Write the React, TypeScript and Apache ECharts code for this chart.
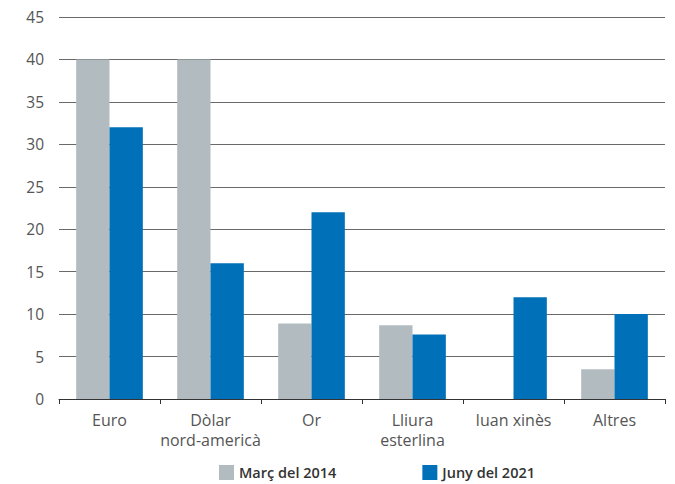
import React, { useEffect, useRef } from "react";
import * as echarts from "echarts";

const categories = ["Euro", "Dòlar\nnord-americà", "Or", "Lliura\nesterlina", "Iuan xinès", "Altres"];
const seriesNames = ["Març del 2014", "Juny del 2021"];
const march2014 = [40, 40, 8.9, 8.7, 0, 3.5];
const june2021 = [32, 16, 22, 7.6, 12, 10];
const yMin = 0;
const yMax = 45;
const yInterval = 5;

export default function App() {
  const ref = useRef<HTMLDivElement>(null);
  useEffect(() => {
    const chart = echarts.init(ref.current!, null, { renderer: "svg" });
    const font = "'Open Sans', 'Noto Sans', sans-serif";
    chart.setOption({
      animation: false,
      textStyle: { fontFamily: font },
      grid: { left: 59, right: 10, top: 17, bottom: 85 },
      legend: {
        left: 219,
        top: 465,
        padding: 0,
        itemWidth: 15,
        itemHeight: 15,
        itemGap: 86,
        icon: "rect",
        textStyle: { fontSize: 14.5, color: "#333", fontWeight: 600, fontFamily: font },
        data: seriesNames,
      },
      xAxis: {
        type: "category",
        data: categories,
        axisLine: { lineStyle: { color: "#333", width: 1 } },
        axisTick: { show: true, length: 5, interval: 0, lineStyle: { color: "#333" } },
        axisLabel: { interval: 0, fontSize: 16, color: "#555", margin: 11, lineHeight: 20, fontFamily: font },
      },
      yAxis: {
        type: "value",
        min: yMin,
        max: yMax,
        interval: yInterval,
        axisLine: { show: false },
        axisTick: { show: false },
        axisLabel: { fontSize: 15.5, color: "#555", margin: 15, fontFamily: font },
        splitLine: { lineStyle: { color: "#6a6a6a", width: 1 } },
      },
      series: [
        {
          name: seriesNames[0],
          type: "bar",
          data: march2014,
          barGap: "0%",
          barCategoryGap: "34%",
          itemStyle: { color: "#b2bcc0" },
        },
        {
          name: seriesNames[1],
          type: "bar",
          data: june2021,
          barGap: "0%",
          barCategoryGap: "34%",
          itemStyle: { color: "#0070b8" },
        },
      ],
    });
    return () => chart.dispose();
  }, []);
  return <div ref={ref} style={{ width: 675, height: 484, position: "absolute", left: 0, top: 0 }} />;
}
